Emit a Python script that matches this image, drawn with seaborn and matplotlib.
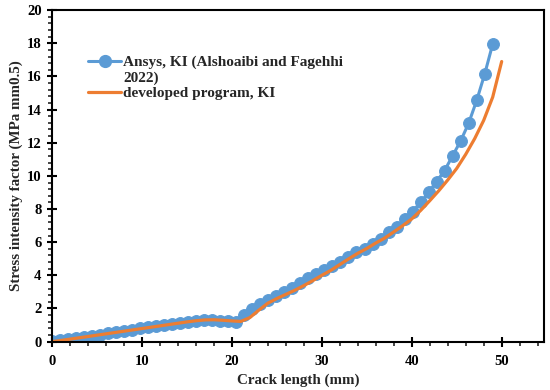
import numpy as np
import pandas as pd
import seaborn as sns
import matplotlib.pyplot as plt
from matplotlib.lines import Line2D
from matplotlib.ticker import MultipleLocator

# data
ansys_x = [0.0, 0.89, 1.78, 2.67, 3.56, 4.45, 5.35, 6.24, 7.13, 8.02, 8.91, 9.80,
           10.69, 11.58, 12.47, 13.36, 14.25, 15.15, 16.04, 16.93, 17.82, 18.71,
           19.60, 20.49, 21.38, 22.27, 23.16, 24.05, 24.95, 25.84, 26.73, 27.62,
           28.51, 29.40, 30.29, 31.18, 32.07, 32.96, 33.85, 34.75, 35.64, 36.53,
           37.42, 38.31, 39.20, 40.09, 40.98, 41.87, 42.76, 43.65, 44.55, 45.44,
           46.33, 47.22, 48.11, 49.0]
ansys_k = [0.02, 0.08, 0.15, 0.22, 0.29, 0.36, 0.43, 0.50, 0.57, 0.65, 0.72, 0.80,
           0.87, 0.94, 1.01, 1.08, 1.15, 1.21, 1.27, 1.31, 1.30, 1.27, 1.22, 1.18,
           1.62, 1.98, 2.25, 2.50, 2.74, 3.00, 3.26, 3.56, 3.82, 4.08, 4.33, 4.57,
           4.83, 5.09, 5.39, 5.58, 5.90, 6.20, 6.60, 6.94, 7.40, 7.85, 8.40, 9.00,
           9.66, 10.32, 11.22, 12.11, 13.18, 14.55, 16.14, 17.95]

prog_x = list(range(0, 51))
prog_k = [0.0, 0.07, 0.15, 0.23, 0.31, 0.39, 0.47, 0.55, 0.63, 0.71, 0.79, 0.87,
          0.95, 1.03, 1.11, 1.19, 1.26, 1.31, 1.32, 1.29, 1.25, 1.22, 1.45, 1.90,
          2.32, 2.60, 2.85, 3.10, 3.38, 3.68, 4.00, 4.30, 4.65, 5.00, 5.33, 5.62,
          5.95, 6.25, 6.62, 7.00, 7.40, 7.92, 8.50, 9.10, 9.75, 10.45, 11.30,
          12.25, 13.35, 14.75, 16.90]

blue = '#5B9BD5'
orange = '#ED7D31'

sns.set_style("ticks")
plt.rcParams['font.family'] = ['Liberation Serif', 'DejaVu Serif']
plt.rcParams['font.weight'] = 'bold'

df_a = pd.DataFrame({'x': ansys_x, 'k': ansys_k})
df_p = pd.DataFrame({'x': prog_x, 'k': prog_k})

fig = plt.figure(figsize=(5.5, 3.9), dpi=100)
ax = fig.add_axes([0.0945, 0.124, 0.8945, 0.85])

sns.lineplot(data=df_a, x='x', y='k', ax=ax, color=blue, linewidth=2.2,
             marker='o', markersize=8.5, markeredgecolor=blue)
sns.lineplot(data=df_p, x='x', y='k', ax=ax, color=orange, linewidth=2.3)

ax.set_xlim(0, 54.7)
ax.set_ylim(0, 20)
ax.xaxis.set_major_locator(MultipleLocator(10))
ax.xaxis.set_minor_locator(MultipleLocator(2))
ax.yaxis.set_major_locator(MultipleLocator(2))
ax.yaxis.set_minor_locator(MultipleLocator(0.4))
ax.tick_params(which='major', direction='inout', length=7, width=1.5,
               labelsize=10.5, colors='black')
ax.tick_params(axis='x', which='major', pad=6)
ax.tick_params(axis='y', which='major', pad=4)
ax.tick_params(which='minor', direction='out', length=3, width=1.2)
for s in ax.spines.values():
    s.set_linewidth(1.5)
    s.set_color('black')

ax.set_xlabel('Crack length (mm)', fontsize=10.8, fontweight='bold', labelpad=4)
ax.set_ylabel('Stress intensity factor (MPa mm0.5)', fontsize=10.8,
              fontweight='bold', labelpad=3)

handles = [Line2D([], [], color=blue, linewidth=2.2, marker='o', markersize=8.5),
           Line2D([], [], linestyle='none'),
           Line2D([], [], color=orange, linewidth=2.3)]
labels = ['Ansys, KI (Alshoaibi and Fagehhi', '2022)', 'developed program, KI']
ax.legend(handles, labels, loc='upper left', bbox_to_anchor=(0.045, 0.905),
          frameon=False, handlelength=2.2, handletextpad=0.1,
          labelspacing=0.12, prop={'weight': 'bold', 'size': 11})

fig.savefig('out.png', dpi=100)
